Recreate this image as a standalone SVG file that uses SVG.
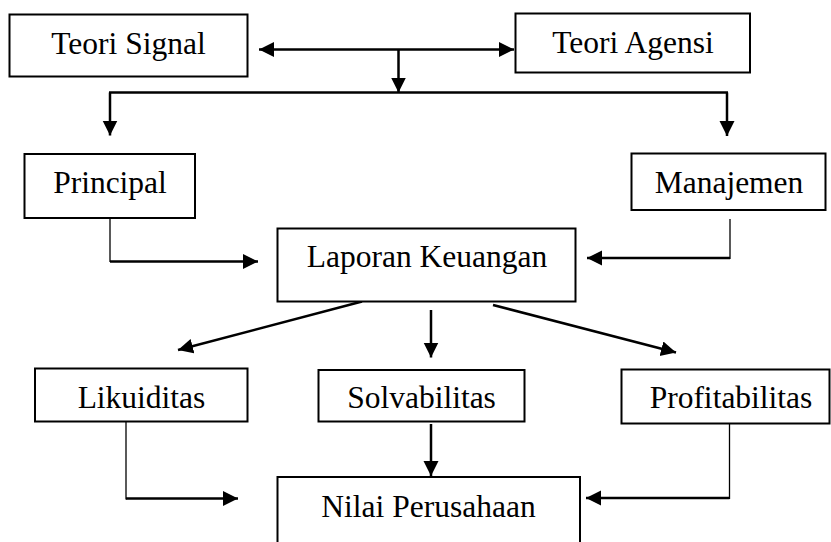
<svg xmlns="http://www.w3.org/2000/svg" width="831" height="542" viewBox="0 0 831 542">
<style>
.box{fill:#fff;stroke:#000;stroke-width:2}
.lbl{font-family:"Liberation Serif",serif;font-size:31.5px;fill:#000;text-anchor:middle}
.thick{fill:none;stroke:#000;stroke-width:2.5}
.thin{fill:none;stroke:#000;stroke-width:1.3}
</style>
<defs>
<marker id="ah" markerUnits="userSpaceOnUse" markerWidth="16" markerHeight="16" refX="15" refY="7.5" orient="auto-start-reverse">
<path d="M0,0 L15,7.5 L0,15 z" fill="#000"/>
</marker>
</defs>
<g id="connectors">
<line class="thick" x1="259" y1="49.5" x2="514" y2="49.5" marker-start="url(#ah)" marker-end="url(#ah)"/>
<line class="thick" x1="398.5" y1="49.5" x2="398.5" y2="92.5" marker-end="url(#ah)"/>
<line class="thick" x1="109" y1="92.5" x2="728" y2="92.5"/>
<line class="thick" x1="110" y1="92.5" x2="110" y2="135.5" marker-end="url(#ah)"/>
<line class="thick" x1="727" y1="92.5" x2="727" y2="136" marker-end="url(#ah)"/>
<line class="thin" x1="110" y1="218" x2="110" y2="262"/>
<line class="thick" x1="110" y1="261.5" x2="258" y2="261.5" marker-end="url(#ah)"/>
<line class="thin" x1="730" y1="219" x2="730" y2="259"/>
<line class="thick" x1="730" y1="258" x2="587" y2="258" marker-end="url(#ah)"/>
<line class="thick" x1="362" y1="301.5" x2="178" y2="350" marker-end="url(#ah)"/>
<line class="thick" x1="431" y1="310" x2="431" y2="357.5" marker-end="url(#ah)"/>
<line class="thick" x1="493" y1="305" x2="676" y2="352.5" marker-end="url(#ah)"/>
<line class="thick" x1="431" y1="424" x2="431" y2="476" marker-end="url(#ah)"/>
<line class="thin" x1="126" y1="421.5" x2="126" y2="499.5"/>
<line class="thick" x1="126" y1="498.5" x2="238" y2="498.5" marker-end="url(#ah)"/>
<line class="thin" x1="729.5" y1="423" x2="729.5" y2="499"/>
<line class="thick" x1="729.5" y1="498" x2="586" y2="498" marker-end="url(#ah)"/>
</g>
<g id="teori-signal"><rect class="box" x="9.5" y="14.5" width="238" height="62"/><text class="lbl" x="128.5" y="54">Teori Signal</text></g>
<g id="teori-agensi"><rect class="box" x="515.5" y="13.5" width="234.5" height="59"/><text class="lbl" x="633" y="53">Teori Agensi</text></g>
<g id="principal"><rect class="box" x="24.5" y="154" width="170.5" height="64"/><text class="lbl" x="110" y="193">Principal</text></g>
<g id="manajemen"><rect class="box" x="631.5" y="153.5" width="194" height="56.5"/><text class="lbl" x="729" y="193">Manajemen</text></g>
<g id="laporan-keuangan"><rect class="box" x="277.5" y="228.5" width="298" height="73"/><text class="lbl" x="427" y="267">Laporan Keuangan</text></g>
<g id="likuiditas"><rect class="box" x="35" y="368.5" width="212.5" height="53"/><text class="lbl" x="141.5" y="408">Likuiditas</text></g>
<g id="solvabilitas"><rect class="box" x="318.5" y="370" width="206" height="51.5"/><text class="lbl" x="421.5" y="408">Solvabilitas</text></g>
<g id="profitabilitas"><rect class="box" x="621.5" y="369.5" width="208" height="54"/><text class="lbl" x="731" y="408">Profitabilitas</text></g>
<g id="nilai-perusahaan"><rect class="box" x="277.5" y="477" width="302.5" height="90"/><text class="lbl" x="428.5" y="517">Nilai Perusahaan</text></g>
</svg>
